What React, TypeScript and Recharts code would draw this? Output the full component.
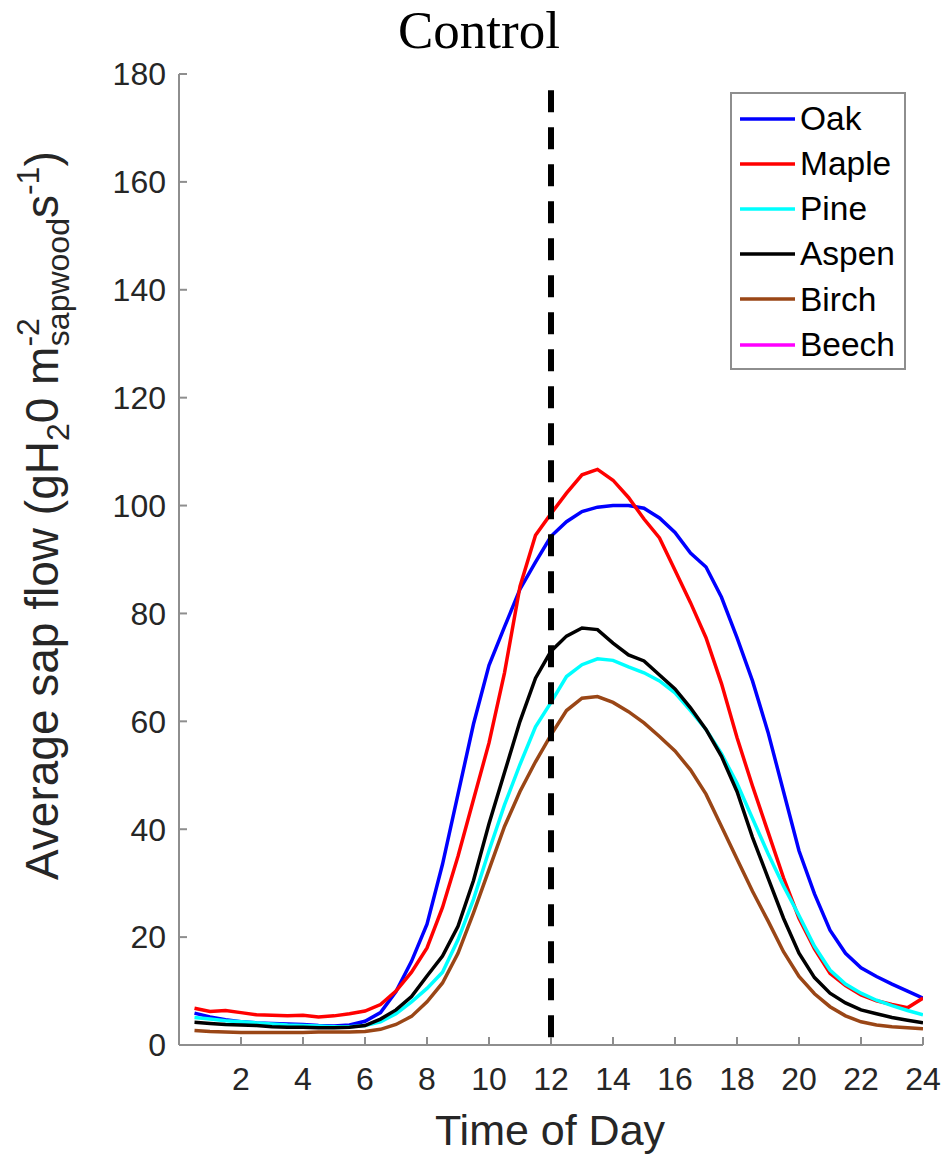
import React from 'react';
import { LineChart, Line, XAxis, YAxis, ReferenceLine, Legend } from 'recharts';

// Half-hourly averages of sap flow through the day (control plots)
const hours = [
  0.5, 1, 1.5, 2, 2.5, 3, 3.5, 4, 4.5, 5, 5.5, 6,
  6.5, 7, 7.5, 8, 8.5, 9, 9.5, 10, 10.5, 11, 11.5, 12,
  12.5, 13, 13.5, 14, 14.5, 15, 15.5, 16, 16.5, 17, 17.5, 18,
  18.5, 19, 19.5, 20, 20.5, 21, 21.5, 22, 22.5, 23, 23.5, 24,
];

const oak = [
  5.9, 5.2, 4.7, 4.3, 4.1, 4.0, 3.9, 3.8, 3.6, 3.5, 3.7, 4.4,
  6.0, 9.9, 15.5, 22.4, 33.5, 46.5, 59.5, 70.4, 77.5, 84.5, 89.5, 94.3,
  97.0, 98.9, 99.7, 100.0, 100.0, 99.5, 97.7, 95.0, 91.2, 88.6, 83.0, 75.5,
  67.5, 58.0, 47.0, 36.0, 28.0, 21.3, 17.0, 14.3, 12.7, 11.3, 10.0, 8.7,
];

const maple = [
  6.8, 6.2, 6.4, 6.0, 5.6, 5.5, 5.4, 5.5, 5.2, 5.4, 5.8, 6.3,
  7.5, 10.0, 13.5, 18.0, 25.5, 35.0, 45.5, 56.0, 69.0, 85.0, 94.5, 98.5,
  102.3, 105.7, 106.7, 104.7, 101.5, 97.5, 94.0, 88.0, 82.0, 75.5, 67.0, 57.0,
  48.0, 39.5, 31.0, 23.5, 17.8, 13.3, 11.0, 9.3, 8.2, 7.5, 6.9, 8.7,
];

const pine = [
  5.1, 4.8, 4.5, 4.3, 4.1, 3.9, 3.7, 3.6, 3.5, 3.4, 3.4, 3.6,
  4.3, 5.8, 8.0, 10.5, 13.5, 19.5, 27.0, 36.0, 44.5, 52.0, 59.0, 63.5,
  68.3, 70.5, 71.6, 71.3, 70.1, 69.0, 67.5, 65.3, 62.0, 58.5, 54.0, 48.5,
  42.0, 35.5, 29.5, 24.0, 18.3, 13.9, 11.3, 9.6, 8.3, 7.3, 6.4, 5.6,
];

const aspen = [
  4.2, 4.0, 3.8, 3.7, 3.6, 3.4, 3.3, 3.3, 3.2, 3.2, 3.3, 3.6,
  4.8, 6.5, 9.0, 12.8, 16.5, 22.0, 30.5, 41.0, 50.5, 60.0, 68.0, 73.0,
  75.8, 77.3, 77.0, 74.5, 72.3, 71.2, 68.6, 66.0, 62.5, 58.5, 53.5, 47.0,
  38.5, 31.0, 23.5, 17.0, 12.5, 9.6, 7.8, 6.5, 5.8, 5.1, 4.6, 4.1,
];

const birch = [
  2.7, 2.5, 2.4, 2.3, 2.3, 2.3, 2.3, 2.3, 2.4, 2.4, 2.4, 2.5,
  2.9, 3.8, 5.3, 8.0, 11.5, 17.0, 24.5, 32.5, 40.5, 47.0, 52.5, 57.5,
  62.0, 64.3, 64.6, 63.5, 61.8, 59.7, 57.2, 54.5, 51.0, 46.5, 40.5, 34.5,
  28.5, 23.0, 17.3, 12.7, 9.5, 7.1, 5.4, 4.3, 3.7, 3.4, 3.2, 3.0,
];

const xTicks = [2, 4, 6, 8, 10, 12, 14, 16, 18, 20, 22, 24];
const yTicks = [0, 20, 40, 60, 80, 100, 120, 140, 160, 180];
const noonHour = 12;
const noonLineTop = 177;

// Beech has no measurements in this treatment, it only appears in the key
const SERIES = [
  { name: 'Oak', color: '#0000ff', values: oak },
  { name: 'Maple', color: '#ff0000', values: maple },
  { name: 'Pine', color: '#00ffff', values: pine },
  { name: 'Aspen', color: '#000000', values: aspen },
  { name: 'Birch', color: '#9a4616', values: birch },
  { name: 'Beech', color: '#ff00ff', values: null as number[] | null },
];

const data = hours.map((h, i) => {
  const row: Record<string, number> = { hour: h };
  SERIES.forEach((s) => {
    if (s.values) row[s.name] = s.values[i];
  });
  return row;
});

const SANS = "'Liberation Sans', Arial, Helvetica, sans-serif";
const SERIF = "'Liberation Serif', 'Times New Roman', serif";
const AXIS_GRAY = '#8e8e8e';
const TEXT_DARK = '#262626';

const renderLegend = () => (
  <div
    style={{
      width: 176,
      height: 278,
      boxSizing: 'border-box',
      border: `2px solid ${AXIS_GRAY}`,
      background: '#fff',
      paddingTop: 2,
    }}
  >
    {SERIES.map((s) => (
      <div key={s.name} style={{ display: 'flex', alignItems: 'center', height: 45.2 }}>
        <svg width={68} height={10} style={{ display: 'block' }}>
          <line x1={8} x2={63} y1={5} y2={5} stroke={s.color} strokeWidth={3.5} />
        </svg>
        <span style={{ fontFamily: SANS, fontSize: 33.5, color: '#000', lineHeight: 1 }}>{s.name}</span>
      </div>
    ))}
  </div>
);

export default function App() {
  return (
    <div style={{ position: 'absolute', left: 0, top: 0, width: 947, height: 1161, background: '#fff' }}>
      <LineChart
        width={947}
        height={1161}
        data={data}
        margin={{ top: 74, right: 24, bottom: 56, left: 99 }}
      >
        <XAxis
          dataKey="hour"
          type="number"
          domain={[0, 24]}
          ticks={xTicks}
          height={60}
          tickSize={-8}
          tickMargin={30}
          stroke={AXIS_GRAY}
          strokeWidth={2}
          tick={{ fill: TEXT_DARK, fontSize: 32, fontFamily: SANS }}
          allowDataOverflow
        />
        <YAxis
          type="number"
          domain={[0, 180]}
          ticks={yTicks}
          width={80}
          tickSize={-8}
          tickMargin={21}
          stroke={AXIS_GRAY}
          strokeWidth={2}
          tick={{ fill: TEXT_DARK, fontSize: 32, fontFamily: SANS }}
          allowDataOverflow
        />
        {SERIES.filter((s) => s.values).map((s) => (
          <Line
            key={s.name}
            dataKey={s.name}
            type="linear"
            stroke={s.color}
            strokeWidth={3.5}
            dot={false}
            activeDot={false}
            isAnimationActive={false}
          />
        ))}
        <ReferenceLine
          segment={[
            { x: noonHour, y: noonLineTop },
            { x: noonHour, y: 0 },
          ]}
          stroke="#000"
          strokeWidth={6}
          strokeDasharray="22 15"
        />
        <Legend
          layout="vertical"
          align="center"
          verticalAlign="middle"
          content={renderLegend}
          wrapperStyle={{ left: 730, top: 92, width: 176, height: 278 }}
        />
      </LineChart>
      <svg
        width={947}
        height={1161}
        style={{ position: 'absolute', left: 0, top: 0, pointerEvents: 'none' }}
      >
        <text x={479} y={48} textAnchor="middle" fontFamily={SERIF} fontSize={53} fill="#000">
          Control
        </text>
        <text x={550} y={1145} textAnchor="middle" fontFamily={SANS} fontSize={43} fill={TEXT_DARK}>
          Time of Day
        </text>
        <g transform="translate(58, 880) rotate(-90)">
          <text x={0} y={0} textAnchor="start" fontFamily={SANS} fontSize={46} fill={TEXT_DARK}>
            <tspan>Average sap flow (gH</tspan>
            <tspan fontSize={32} dy={11}>2</tspan>
            <tspan dy={-11}>0 m</tspan>
            <tspan fontSize={32} dy={-19}>-2</tspan>
            <tspan fontSize={32} dx={-28} dy={30}>sapwood</tspan>
            <tspan dy={-11}>s</tspan>
            <tspan fontSize={32} dy={-19}>-1</tspan>
            <tspan dy={19}>)</tspan>
          </text>
        </g>
      </svg>
    </div>
  );
}
